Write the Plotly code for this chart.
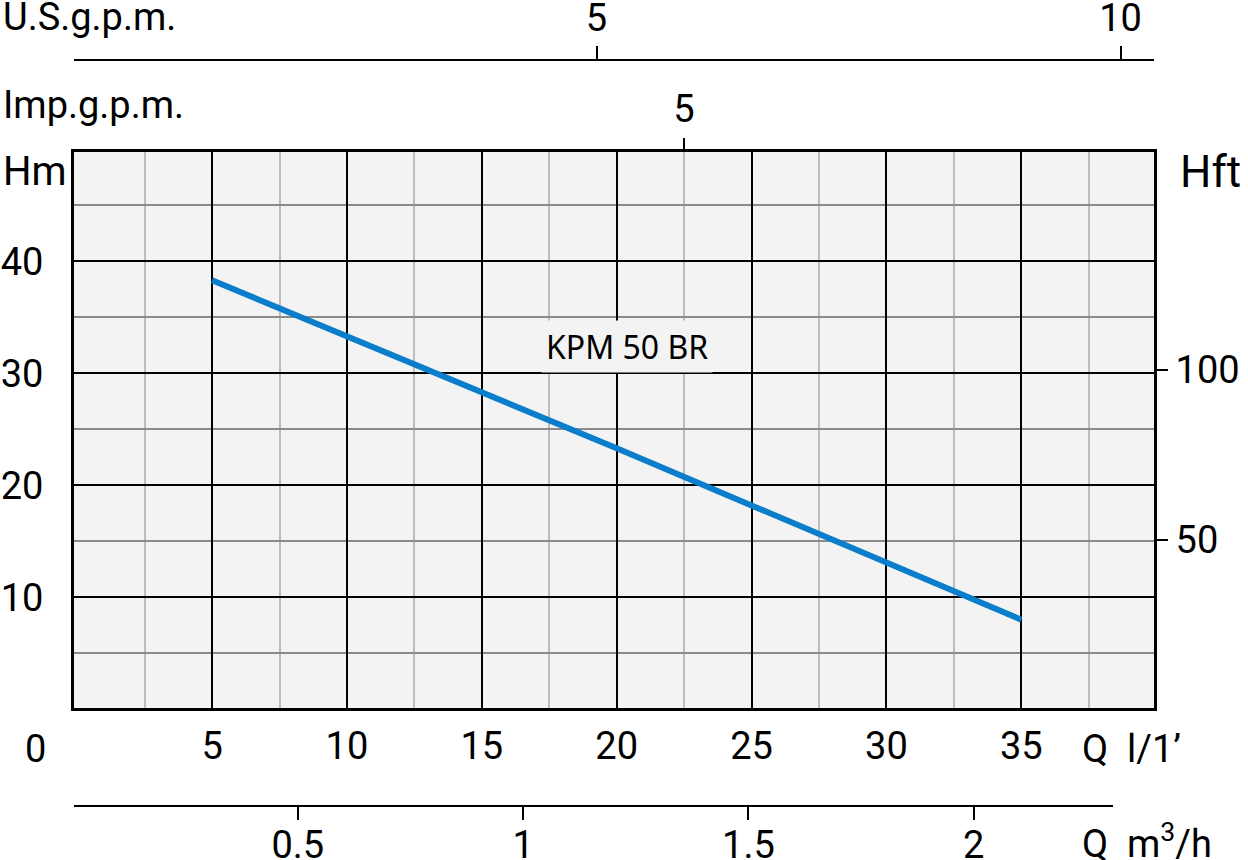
import plotly.graph_objects as go

# ==============================
# DATA
# ==============================

flow_lpm = [5, 10, 15, 20, 25, 30, 35]
head_m = [38.3, 33.3, 28.4, 23.3, 18.2, 13.1, 8.0]

curve_name = "KPM 50 BR"

lpm_ticks = [5, 10, 15, 20, 25, 30, 35]
lpm_minor = [2.5, 7.5, 12.5, 17.5, 22.5, 27.5, 32.5, 37.5]
hm_ticks = [10, 20, 30, 40]
hm_minor = [5, 15, 25, 35, 45]
hft_ticks = [50, 100]
usgpm_ticks = [5, 10]
impgpm_ticks = [5]
m3h_ticks = [0.5, 1, 1.5, 2]
m3h_labels = ["0.5", "1", "1.5", "2"]

# ==============================
# STYLE
# ==============================

W, H = 1248, 860
ML, MR = 73.5, 93.5
PW = W - ML - MR

FONT = "Roboto, Liberation Sans, sans-serif"
TICK_FONT = dict(family=FONT, size=38, color="black")
BG = "#f3f3f3"


def px_x(p):
    return (p - ML) / PW


def px_y(p):
    return (H - p) / H


# ==============================
# BUILD GRAPH
# ==============================

fig = go.Figure()

fig.add_trace(go.Scatter(
    x=flow_lpm,
    y=head_m,
    mode="lines",
    name=curve_name,
    line=dict(color="#0a7ecb", width=6),
    showlegend=False,
))

# empty traces so that the extra unit scales get drawn
for xa, ya in [("x2", "y"), ("x3", "y"), ("x", "y2"), ("x4", "y3")]:
    fig.add_trace(go.Scatter(x=[], y=[], xaxis=xa, yaxis=ya,
                             showlegend=False, hoverinfo="skip"))

fig.add_annotation(
    x=20.4, y=32.35, xref="x", yref="y",
    text=curve_name,
    showarrow=False,
    font=dict(family="Noto Sans", size=32, color="black"),
    bgcolor=BG,
    borderpad=4,
)

fig.update_layout(
    width=W,
    height=H,
    margin=dict(l=ML, r=MR, t=0, b=0),
    paper_bgcolor="white",
    plot_bgcolor=BG,
    showlegend=False,

    xaxis=dict(
        range=[-0.12, 39.92],
        tickmode="array",
        tickvals=lpm_ticks,
        ticks="outside",
        ticklen=3,
        tickcolor="rgba(0,0,0,0)",
        tickfont=TICK_FONT,
        showgrid=True,
        gridcolor="black",
        gridwidth=2,
        zeroline=False,
        showline=True,
        linecolor="black",
        linewidth=3,
        mirror=True,
        minor=dict(tickmode="array", tickvals=lpm_minor, showgrid=True,
                   gridcolor="#bdbdbd", gridwidth=2, ticks=""),
        automargin=False,
    ),

    yaxis=dict(
        domain=[px_y(707.8), px_y(151.5)],
        range=[0.13, 49.8],
        tickmode="array",
        tickvals=hm_ticks,
        ticks="outside",
        ticklen=20,
        tickcolor="rgba(0,0,0,0)",
        tickfont=TICK_FONT,
        showgrid=True,
        gridcolor="black",
        gridwidth=2,
        zeroline=False,
        showline=True,
        linecolor="black",
        linewidth=3,
        mirror=True,
        minor=dict(tickmode="array", tickvals=hm_minor, showgrid=True,
                   gridcolor="#8a8a8a", gridwidth=2, ticks=""),
        automargin=False,
    ),

    # feet scale on the right
    yaxis2=dict(
        overlaying="y",
        side="right",
        range=[0.43, 164.3],
        tickmode="array",
        tickvals=hft_ticks,
        ticks="outside",
        ticklen=13,
        tickwidth=2,
        tickcolor="black",
        tickfont=TICK_FONT,
        showgrid=False,
        zeroline=False,
        showline=False,
        automargin=False,
    ),

    # U.S. gallons per minute (top line)
    xaxis2=dict(
        overlaying="x",
        side="top",
        anchor="free",
        position=px_y(60),
        range=[(ML - 72) / 104.9, (W - MR - 72) / 104.9],
        tickmode="array",
        tickvals=usgpm_ticks,
        ticks="outside",
        ticklen=13,
        tickwidth=2,
        tickcolor="black",
        tickfont=TICK_FONT,
        showgrid=False,
        zeroline=False,
        showline=True,
        linecolor="black",
        linewidth=2,
        automargin=False,
    ),

    # Imperial gallons per minute (on top border)
    xaxis3=dict(
        overlaying="x",
        side="top",
        anchor="y",
        range=[(ML - 72) / 122.4, (W - MR - 72) / 122.4],
        tickmode="array",
        tickvals=impgpm_ticks,
        ticks="outside",
        ticklen=13,
        tickwidth=2,
        tickcolor="black",
        tickfont=TICK_FONT,
        showgrid=False,
        zeroline=False,
        showline=False,
        automargin=False,
    ),

    # cubic metres per hour (bottom line)
    xaxis4=dict(
        domain=[0, (1113 - ML) / PW],
        side="bottom",
        anchor="y3",
        range=[(ML - 72) / 451, (1113 - 72) / 451],
        tickmode="array",
        tickvals=m3h_ticks,
        ticktext=m3h_labels,
        ticks="outside",
        ticklen=13,
        tickwidth=2,
        tickcolor="black",
        tickfont=TICK_FONT,
        ticklabelstandoff=-7,
        showgrid=False,
        zeroline=False,
        showline=True,
        linecolor="black",
        linewidth=2,
        automargin=False,
    ),
    yaxis3=dict(
        domain=[px_y(804.6), px_y(804.2)],
        anchor="x4",
        visible=False,
    ),
)

# ==============================
# AXIS TITLES
# ==============================

labels = [
    ("Hm", px_x(0), px_y(172), "left", 40),
    ("Hft", px_x(1179), px_y(172), "left", 44),
    ("U.S.g.p.m.", px_x(0), px_y(17), "left", 38),
    ("Imp.g.p.m.", px_x(0), px_y(105), "left", 38),
    ("Q  l/1’", px_x(1080), px_y(749), "left", 38),
    ("Q  m<sup>3</sup>/h", px_x(1080), px_y(841), "left", 38),
    ("0", px_x(35), px_y(749), "center", 38),
]

for text, x, y, anchor, size in labels:
    fig.add_annotation(
        x=x, y=y, xref="paper", yref="paper",
        text=text,
        showarrow=False,
        xanchor=anchor,
        yanchor="middle",
        font=dict(family=FONT, size=size, color="black"),
    )

fig.write_html(
    "out.html",
    config={"displayModeBar": False},
    post_script="document.body.style.margin='0';",
)
